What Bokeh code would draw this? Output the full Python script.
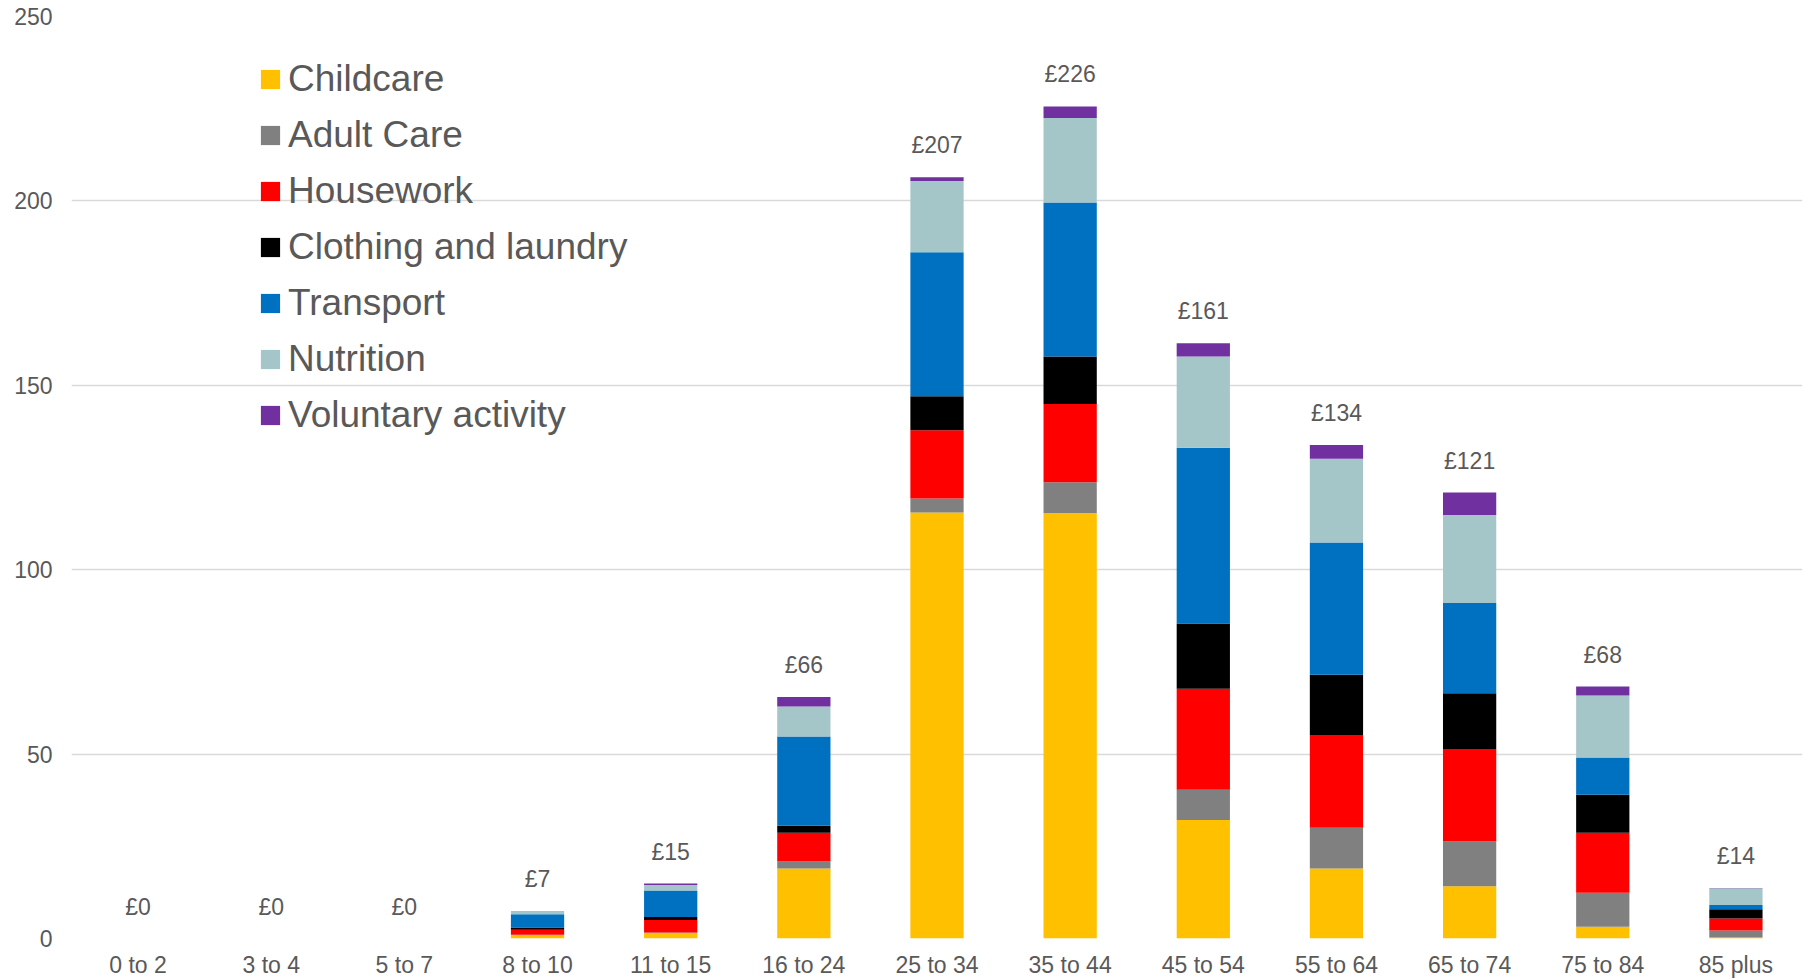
from bokeh.plotting import figure
from bokeh.models import (ColumnDataSource, FactorRange, Range1d, Legend, LegendItem,
                          LabelSet, FixedTicker)
from bokeh.core.properties import value
from bokeh.embed import file_html
from bokeh.resources import INLINE

# ---- data ----
age_groups = ["0 to 2", "3 to 4", "5 to 7", "8 to 10", "11 to 15", "16 to 24", "25 to 34",
              "35 to 44", "45 to 54", "55 to 64", "65 to 74", "75 to 84", "85 plus"]
childcare = [0, 0, 0, 0.9, 1.4, 19.0, 115.5, 115.4, 32.1, 19.0, 14.2, 3.2, 0.3]
adult_care = [0, 0, 0, 0.1, 0.2, 1.9, 3.8, 8.3, 8.2, 11.0, 12.1, 9.2, 1.9]
housework = [0, 0, 0, 1.4, 3.4, 7.8, 18.5, 21.2, 27.4, 25.2, 25.1, 16.3, 3.2]
clothing_laundry = [0, 0, 0, 0.6, 0.8, 1.9, 9.2, 12.9, 17.7, 16.3, 15.1, 10.3, 2.5]
transport = [0, 0, 0, 3.6, 7.2, 24.2, 39.1, 41.8, 47.7, 35.9, 24.5, 10.1, 1.2]
nutrition = [0, 0, 0, 0.7, 1.5, 8.1, 19.3, 22.9, 24.7, 22.7, 23.8, 16.8, 4.5]
voluntary_activity = [0, 0, 0, 0.1, 0.4, 2.6, 1.0, 3.1, 3.6, 3.7, 6.1, 2.4, 0.1]
total_labels = ["£0", "£0", "£0", "£7", "£15", "£66", "£207", "£226", "£161", "£134",
                "£121", "£68", "£14"]
series_names = ["Childcare", "Adult Care", "Housework", "Clothing and laundry",
                "Transport", "Nutrition", "Voluntary activity"]
series_keys = ["childcare", "adult_care", "housework", "clothing_laundry",
               "transport", "nutrition", "voluntary_activity"]
series_colors = ["#FFC000", "#808080", "#FF0000", "#000000", "#0070C0", "#A5C6C9", "#7030A0"]
y_ticks = [0, 50, 100, 150, 200, 250]

series_values = [childcare, adult_care, housework, clothing_laundry, transport,
                 nutrition, voluntary_activity]
totals = [sum(v) for v in zip(*series_values)]

data = dict(age=age_groups, total=totals, label=total_labels)
for k, v in zip(series_keys, series_values):
    data[k] = v
source = ColumnDataSource(data)

FONT = "Liberation Sans"
TXT = "#595959"

p = figure(x_range=FactorRange(*age_groups), y_range=Range1d(0, 250),
           width=1808, height=980, output_backend="svg", toolbar_location=None,
           min_border_left=71, min_border_right=6, min_border_top=16, min_border_bottom=0)

renderers = p.vbar_stack(series_keys, x="age", width=0.4, source=source,
                         fill_color=series_colors, line_color=None)

labels = LabelSet(x="age", y="total", text="label", source=source,
                  text_align="center", text_baseline="alphabetic", y_offset=24,
                  text_font=value(FONT), text_font_size=value("23px"), text_color=value(TXT))
p.add_layout(labels)

legend = Legend(items=[LegendItem(label=n, renderers=[r]) for n, r in zip(series_names, renderers)],
                location=(187, 502), orientation="vertical",
                label_text_font=FONT, label_text_font_size="37px", label_text_color=TXT,
                glyph_width=24, glyph_height=24, label_height=42, spacing=14,
                label_standoff=6, padding=0, margin=0,
                border_line_color=None, background_fill_alpha=0)
p.add_layout(legend)

p.outline_line_color = None
p.xgrid.visible = False
p.ygrid.grid_line_color = "#D9D9D9"
p.ygrid.grid_line_width = 1.5
p.yaxis.ticker = FixedTicker(ticks=y_ticks)

for ax in (p.xaxis, p.yaxis):
    ax.axis_line_color = None
    ax.major_tick_line_color = None
    ax.minor_tick_line_color = None
    ax.major_label_text_font = FONT
    ax.major_label_text_font_size = "23px"
    ax.major_label_text_color = TXT
p.yaxis.major_label_standoff = 13
p.xaxis.major_label_standoff = 7

open("out.html", "w").write(file_html(p, INLINE))
